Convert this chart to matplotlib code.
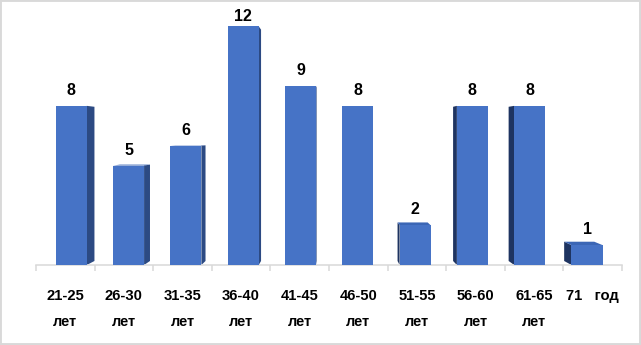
import numpy as np
import matplotlib.pyplot as plt
from matplotlib.patches import Polygon, Rectangle

# data
cats = ["21-25\nлет", "26-30\nлет", "31-35\nлет", "36-40\nлет", "41-45\nлет",
        "46-50\nлет", "51-55\nлет", "56-60\nлет", "61-65\nлет", "71   год"]
values = [8, 5, 6, 12, 9, 8, 2, 8, 8, 1]

plt.rcParams['font.family'] = ['Liberation Sans', 'DejaVu Sans']

front_col = '#4673C6'
right_col = '#2C4A83'
left_col = '#1E3461'
top_col = '#3B66B5'
grid_col = '#D9D9D9'

fig = plt.figure(figsize=(6.41, 3.45), dpi=100)
ax = fig.add_axes([36/641, 80/345, 586/641, 260/345])
ax.set_xlim(-0.5, 9.5)
ax.set_ylim(0, 13.07)

# fake 3d: front face shrunk toward a vanishing point, back face a bit more
vx, vy = 4.6, 6.5
s0 = 0.978
d = 0.031
w = 0.53

x = np.arange(len(values))
h = np.array(values, dtype=float)
xf = vx + s0 * (x - vx)

ax.bar(xf, h, width=w, color=front_col, zorder=3)

for xc, hv in zip(xf, h):
    xl, xr = xc - w/2, xc + w/2
    dy_top = d * (vy - hv)
    dy_bot = d * (vy - 0)
    if xr < vx:
        dx = d * (vx - xr)
        ax.add_patch(Polygon([(xr, 0), (xr, hv), (xr + dx, hv + dy_top), (xr + dx, dy_bot)],
                             closed=True, color=right_col, zorder=2, lw=0))
    elif xl > vx:
        dx = d * (vx - xl)
        ax.add_patch(Polygon([(xl, 0), (xl, hv), (xl + dx, hv + dy_top), (xl + dx, dy_bot)],
                             closed=True, color=left_col, zorder=2, lw=0))
    if hv < vy:
        ax.add_patch(Polygon([(xl, hv), (xr, hv), (xr + d*(vx - xr), hv + dy_top),
                              (xl + d*(vx - xl), hv + dy_top)],
                             closed=True, color=top_col, zorder=2, lw=0))

# value labels
ly = np.minimum(h + 0.55, 12.26)
for xc, yv, v in zip(xf, ly, values):
    ax.text(xc, yv, str(v), ha='center', va='baseline', fontsize=11.5,
            fontweight='bold', color='black')

# axis
for s in ['top', 'right', 'left']:
    ax.spines[s].set_visible(False)
ax.spines['bottom'].set_color(grid_col)
ax.spines['bottom'].set_linewidth(1.1)
ax.set_yticks([])
ax.set_xticks(x)
ax.set_xticklabels(cats, fontsize=10.6, fontweight='bold', linespacing=2.1)
ax.set_xticks(np.arange(-0.5, 10, 1), minor=True)
ax.tick_params(axis='x', which='major', length=0, pad=17)
ax.tick_params(axis='x', which='minor', length=4, width=1.1, color=grid_col)

fig.add_artist(Rectangle((0, 0), 1, 1, transform=fig.transFigure, fill=False,
                         edgecolor=grid_col, lw=2.8))

fig.savefig('out.png', dpi=100)
